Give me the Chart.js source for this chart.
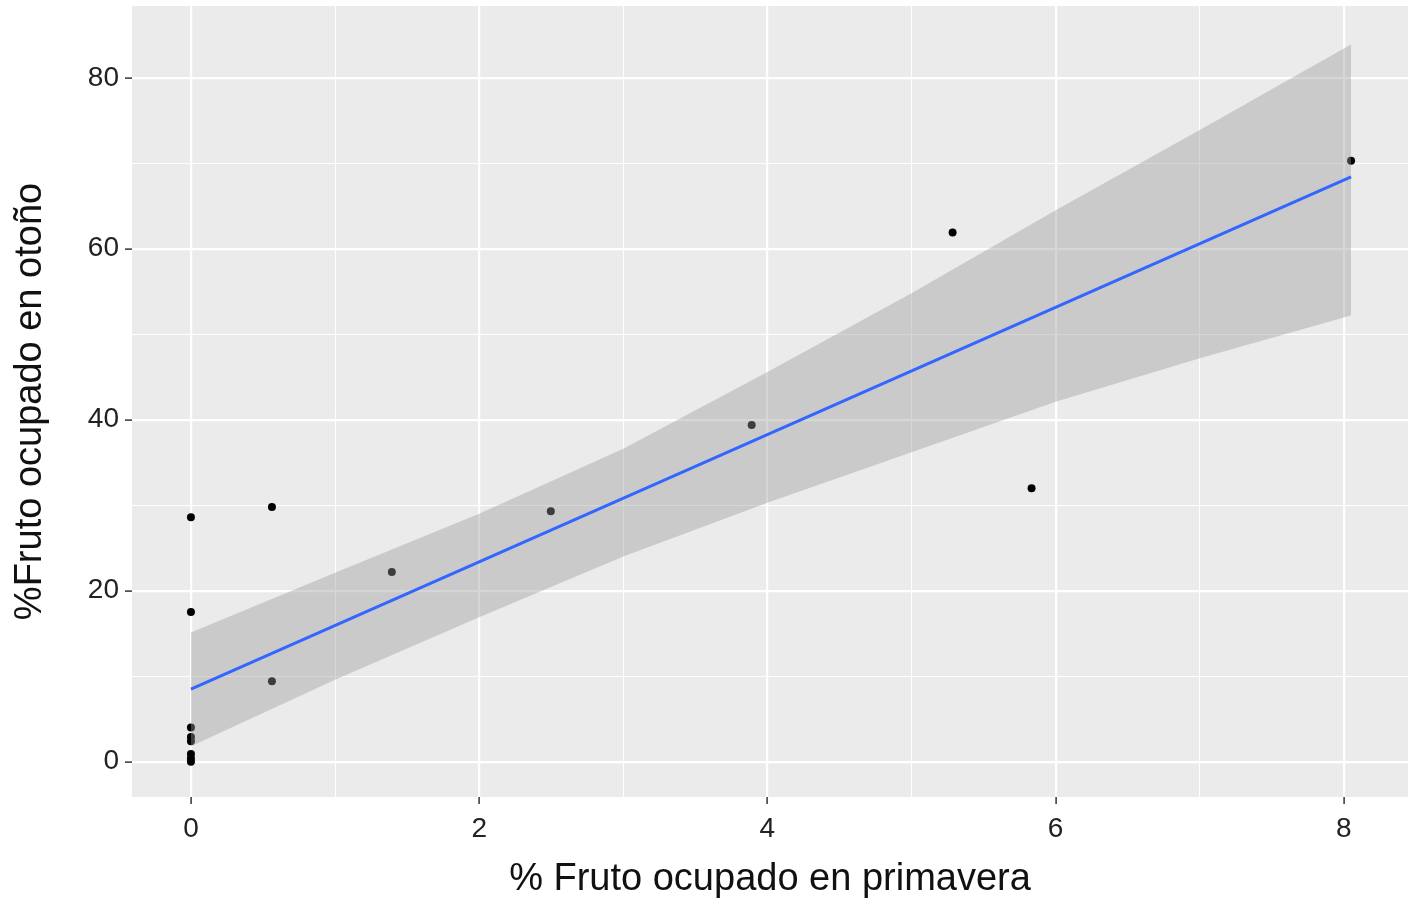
<!DOCTYPE html>
<html>
<head>
<meta charset="utf-8">
<script src="https://cdn.jsdelivr.net/npm/chart.js@4"></script>
<style>
  html, body { margin: 0; padding: 0; background: #fff; }
  #wrap { width: 1412px; height: 903px; }
</style>
</head>
<body>
<div id="wrap"><canvas id="fruitChart"></canvas></div>
<script>
// observed points
const springPct = [0, 0, 0, 0, 0, 0, 0, 0, 0.562, 0.562, 1.394, 2.497, 3.891, 5.285, 5.833, 8.05];
const autumnPct = [28.6, 17.5, 4.0, 2.9, 2.4, 0.9, 0.4, 0.0, 29.8, 9.4, 22.2, 29.3, 39.4, 61.9, 32.0, 70.3];

// fitted line and confidence band
const fitX = [0, 8.05];
const fitY = [8.5, 68.4];
const bandX = [0, 1, 2, 3, 4, 5, 6, 7, 8.05];
const bandUpper = [15.1, 22.1, 29.0, 36.6, 45.6, 54.8, 64.5, 73.9, 83.9];
const bandLower = [1.8, 9.6, 16.9, 24.0, 30.3, 36.2, 42.1, 47.2, 52.2];

// axis breaks
const xMajor = [0, 2, 4, 6, 8];
const xMinor = [1, 3, 5, 7];
const yMajor = [0, 20, 40, 60, 80];
const yMinor = [10, 30, 50, 70];

const toXY = (xs, ys) => xs.map((x, i) => ({ x: x, y: ys[i] }));

const panelBg = {
    id: "panelBg",
    beforeDraw(chart) {
        const { ctx, chartArea } = chart;
        ctx.save();
        ctx.fillStyle = "#EBEBEB";
        ctx.fillRect(chartArea.left, chartArea.top, chartArea.right - chartArea.left, chartArea.bottom - chartArea.top);
        ctx.restore();
    }
};

function setTicks(major, minor) {
    return function (scale) {
        scale.ticks = major.concat(minor).sort((a, b) => a - b).map(v => ({ value: v }));
    };
}

function gridFor(major) {
    return {
        color: "#FFFFFF",
        lineWidth: (c) => major.includes(c.tick.value) ? 2.2 : 1,
        drawTicks: true,
        tickLength: 7,
        tickWidth: 1.5,
        tickColor: (c) => major.includes(c.tick.value) ? "#333333" : "rgba(0,0,0,0)"
    };
}

const ctx = document.getElementById("fruitChart").getContext("2d");

new Chart(ctx, {
    type: "scatter",
    data: {
        datasets: [
            {
                label: "ajuste",
                data: toXY(fitX, fitY),
                showLine: true,
                borderColor: "#3366FF",
                borderWidth: 3,
                pointRadius: 0,
                order: 0
            },
            {
                label: "banda sup",
                data: toXY(bandX, bandUpper),
                showLine: true,
                borderWidth: 0,
                borderColor: "rgba(0,0,0,0)",
                pointRadius: 0,
                fill: "+1",
                backgroundColor: "rgba(153,153,153,0.4)",
                order: 1
            },
            {
                label: "banda inf",
                data: toXY(bandX, bandLower),
                showLine: true,
                borderWidth: 0,
                borderColor: "rgba(0,0,0,0)",
                pointRadius: 0,
                order: 1
            },
            {
                label: "datos",
                data: toXY(springPct, autumnPct),
                pointRadius: 4,
                pointBackgroundColor: "#000000",
                pointBorderWidth: 0,
                order: 2
            }
        ]
    },
    options: {
        responsive: true,
        maintainAspectRatio: false,
        animation: false,
        layout: { padding: { top: 6, right: 0, left: 0, bottom: 0 } },
        plugins: {
            legend: { display: false },
            tooltip: { enabled: false }
        },
        scales: {
            x: {
                type: "linear",
                min: -0.409,
                max: 8.445,
                afterBuildTicks: setTicks(xMajor, xMinor),
                afterFit: (scale) => {
                    scale.height = 106;
                    scale.paddingLeft = 0;
                    scale.paddingRight = 0;
                },
                grid: gridFor(xMajor),
                border: { display: false },
                ticks: {
                    autoSkip: false,
                    maxRotation: 0,
                    padding: 8,
                    color: "#222222",
                    font: { family: "Liberation Sans", size: 28 },
                    callback: (v) => xMajor.includes(v) ? String(v) : ""
                },
                title: {
                    display: true,
                    text: "% Fruto ocupado en primavera",
                    color: "#111111",
                    font: { family: "Liberation Sans", size: 38 },
                    padding: { top: 0, bottom: 1 }
                }
            },
            y: {
                type: "linear",
                min: -4.13,
                max: 88.4,
                afterBuildTicks: setTicks(yMajor, yMinor),
                afterFit: (scale) => {
                    scale.width = 132;
                    scale.paddingTop = 0;
                    scale.paddingBottom = 0;
                },
                grid: gridFor(yMajor),
                border: { display: false },
                ticks: {
                    autoSkip: false,
                    padding: 6,
                    color: "#222222",
                    font: { family: "Liberation Sans", size: 28 },
                    callback: (v) => yMajor.includes(v) ? String(v) : ""
                },
                title: {
                    display: true,
                    text: "%Fruto ocupado en otoño",
                    color: "#111111",
                    font: { family: "Liberation Sans", size: 38 },
                    padding: { top: 8, bottom: 0 }
                }
            }
        }
    },
    plugins: [panelBg]
});
</script>
</body>
</html>
